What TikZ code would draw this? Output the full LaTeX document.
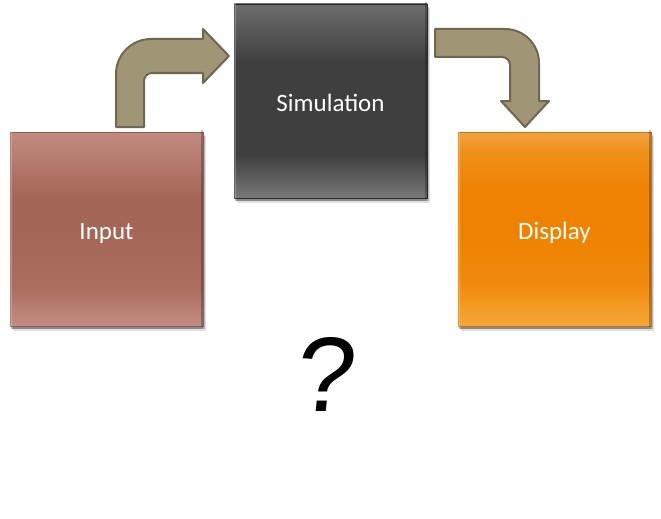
\documentclass[tikz,border=0pt]{standalone}
\usepackage{fontspec}
\setmainfont{Carlito}
\newfontfamily\qfont{Liberation Sans}
\definecolor{arrowfill}{HTML}{A09574}
\definecolor{arrowline}{HTML}{6F6851}
\definecolor{inTop}{HTML}{C28A80}
\definecolor{inMid}{HTML}{A46656}
\definecolor{inBot}{HTML}{C48C82}
\definecolor{inLine}{HTML}{8E5C50}
\definecolor{simTop}{HTML}{6C6C6C}
\definecolor{simMid}{HTML}{3F3F3F}
\definecolor{simBot}{HTML}{7A7A7A}
\definecolor{simLine}{HTML}{2A2A2A}
\definecolor{dTop}{HTML}{F2A23E}
\definecolor{dMid}{HTML}{EF8200}
\definecolor{dBot}{HTML}{F6A838}
\definecolor{dLine}{HTML}{C87010}
% the path occupies 25bp..75bp of the 100bp shading
\pgfdeclareverticalshading{inshade}{100bp}{color(0bp)=(inBot); color(25bp)=(inBot); color(27bp)=(inBot!85!inMid); color(35bp)=(inMid!80!inBot); color(50bp)=(inMid); color(58bp)=(inMid); color(73bp)=(inTop!90!inMid); color(75bp)=(inTop); color(100bp)=(inTop)}
\pgfdeclareverticalshading{simshade}{100bp}{color(0bp)=(simBot); color(25bp)=(simBot); color(27bp)=(simBot!80!simMid); color(36bp)=(simMid); color(60bp)=(simMid); color(73bp)=(simTop!90!simMid); color(75bp)=(simTop); color(100bp)=(simTop)}
\pgfdeclareverticalshading{dshade}{100bp}{color(0bp)=(dBot); color(25bp)=(dBot); color(27bp)=(dBot!85!dMid); color(36bp)=(dMid!80!dBot); color(50bp)=(dMid); color(60bp)=(dMid); color(70bp)=(dMid!55!dTop); color(75bp)=(dTop); color(100bp)=(dTop)}
\tikzset{
  block/.style={minimum width=193pt, minimum height=194pt, inner sep=0pt,
    line width=0.8pt, text=white, font=\fontsize{25}{28}\selectfont},
  shadowbox/.style={fill=black, opacity=0.18},
  bevel/.style={line width=2pt, opacity=0.25},
  bentarrow/.style={fill=arrowfill, draw=arrowline, line width=2pt, line join=round}
}
\newcommand{\blocktext}[1]{\raisebox{-10.5pt}[0pt][0pt]{#1}}
\begin{document}
\begin{tikzpicture}[x=1pt, y=-1pt]
\useasboundingbox (0,0) rectangle (661,519);
% soft shadows under the blocks
\foreach \cx/\cy in {106.5/229, 330.5/101, 554.5/229}{
  \fill[shadowbox] (\cx-95,\cy-94) rectangle (\cx+98,\cy+100);
  \fill[shadowbox, opacity=0.12] (\cx-94,\cy-93) rectangle (\cx+99,\cy+102);
}
\node[block, draw=inLine, shade, shading=inshade] (input) at (106.5,229) {\blocktext{Input}};
\node[block, draw=simLine, shade, shading=simshade] (sim) at (330.5,101) {\blocktext{Simulation}};
\node[block, draw=dLine, shade, shading=dshade] (disp) at (554.5,229) {\blocktext{Display}};
% bevel edges
\foreach \n in {input, sim, disp}{
  \draw[bevel, white] ([shift={(1.5pt,-1.5pt)}]\n.south west) -- ([shift={(1.5pt,1.5pt)}]\n.north west) -- ([shift={(-1.5pt,1.5pt)}]\n.north east);
  \draw[bevel, black] ([shift={(-1.5pt,1.5pt)}]\n.north east) -- ([shift={(-1.5pt,-1.5pt)}]\n.south east) -- ([shift={(1.5pt,-1.5pt)}]\n.south west);
}
% bent arrow from Input to Simulation
\draw[bentarrow] (116,127) [rounded corners=35pt] -- (116,39) [rounded corners=0pt] -- (203,39) -- (203,29) -- (229,56) -- (203,83) -- (203,73) [rounded corners=8pt] -- (144,73) [rounded corners=0pt] -- (144,127) -- cycle;
% bent arrow from Simulation to Display
\draw[bentarrow] (435,29) [rounded corners=34pt] -- (539,29) [rounded corners=0pt] -- (539,101) -- (549,101) -- (525,127) -- (501,101) -- (510,101) [rounded corners=8pt] -- (510,57) [rounded corners=0pt] -- (435,57) -- cycle;
% question mark
\begin{scope}[shift={(327,374)}, xslant=0.1]
\node[transform shape, text=black, font=\qfont\fontsize{106}{110}\selectfont] (q) at (0,0) {?};
\end{scope}
\end{tikzpicture}
\end{document}
